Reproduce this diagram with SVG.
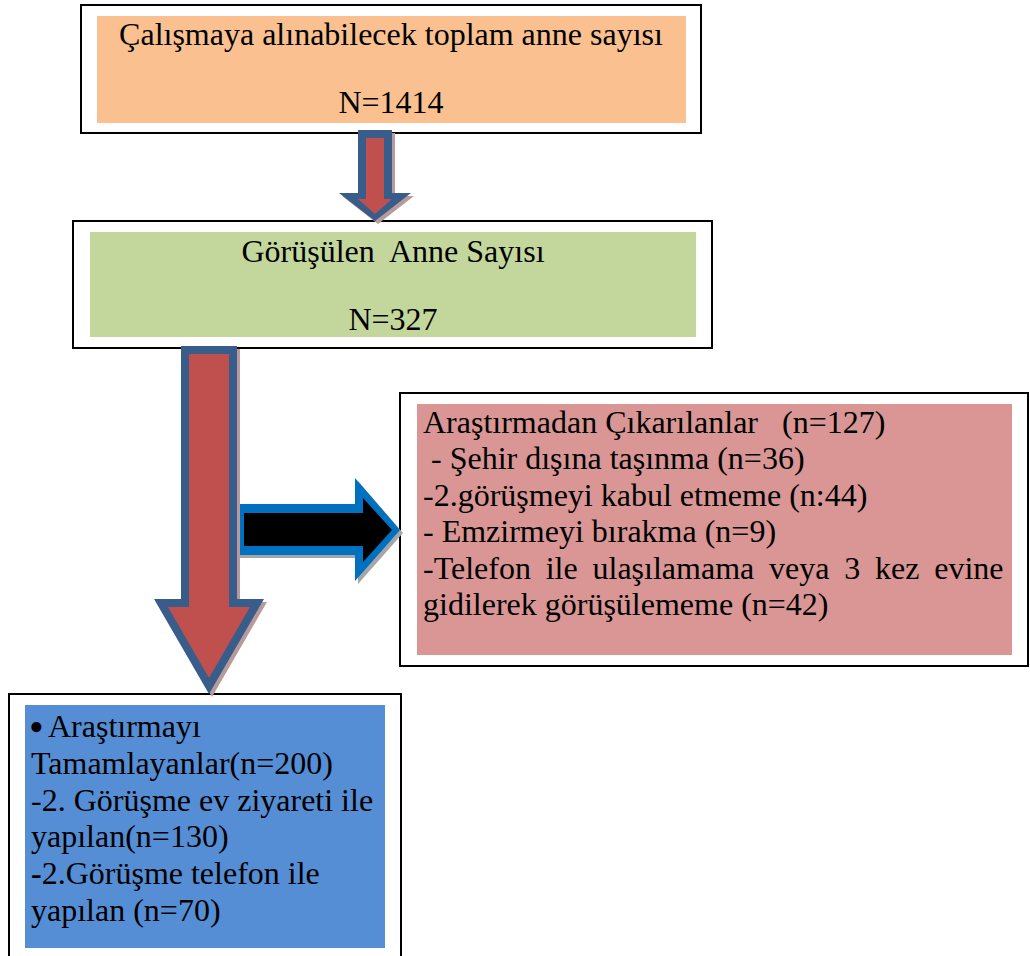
<svg xmlns="http://www.w3.org/2000/svg" xmlns:xlink="http://www.w3.org/1999/xlink" width="1030" height="956" viewBox="0 0 1030 956">
  <style>
    .frame { fill: #FFFFFF; stroke: #000000; stroke-width: 2; }
    .blueline { fill: #385D8A; }
    .redfill { fill: #C0504D; }
    .redshadow { fill: #B89A9A; }
    .cyanline { fill: #0070C0; }
    .blackfill { fill: #000000; }
    .grayshadow { fill: #A6A6A6; }
  </style>
  <defs>
    <polygon id="a1out" points="358,130 392,130 392,193 411,193 375,221 339,193 358,193"/>
    <polygon id="a2out" points="181,346 237,346 237,599 264,599 209,694 154,599 181,599"/>
    <polygon id="a3out" points="236,504 355,504 355,478 400,530 355,581 355,555 236,555"/>
  </defs>

  <rect width="1030" height="956" fill="#FFFFFF"/>

  <g id="node-total">
    <rect class="frame" x="81" y="5" width="620" height="128"/>
    <rect x="97" y="16" width="589" height="107" fill="#FAC090"/>
    <text font-family="Liberation Serif" font-size="32" fill="#000000" text-anchor="middle" x="391" y="45">Çalışmaya alınabilecek toplam anne sayısı</text>
    <text font-family="Liberation Serif" font-size="32" fill="#000000" text-anchor="middle" x="391" y="113">N=1414</text>
  </g>

  <g id="node-interviewed">
    <rect class="frame" x="73" y="221" width="639" height="127"/>
    <rect x="90" y="232" width="606" height="105" fill="#C3D69B"/>
    <text font-family="Liberation Serif" font-size="32" fill="#000000" text-anchor="middle" x="393" y="262" xml:space="preserve">Görüşülen  Anne Sayısı</text>
    <text font-family="Liberation Serif" font-size="32" fill="#000000" text-anchor="middle" x="393" y="330">N=327</text>
  </g>

  <g id="node-excluded">
    <rect class="frame" x="400" y="393" width="628" height="273"/>
    <rect x="417" y="404" width="595" height="251" fill="#D99694"/>
    <text font-family="Liberation Serif" font-size="32" fill="#000000" x="423" y="433" xml:space="preserve">Araştırmadan Çıkarılanlar   (n=127)</text>
    <text font-family="Liberation Serif" font-size="32" fill="#000000" x="423" y="469.4" xml:space="preserve"> - Şehir dışına taşınma (n=36)</text>
    <text font-family="Liberation Serif" font-size="32" fill="#000000" x="423" y="505.8">-2.görüşmeyi kabul etmeme (n:44)</text>
    <text font-family="Liberation Serif" font-size="32" fill="#000000" x="423" y="542.2">- Emzirmeyi bırakma (n=9)</text>
    <text font-family="Liberation Serif" font-size="32" fill="#000000" x="423" y="578.6" word-spacing="6.8">-Telefon ile ulaşılamama veya 3 kez evine</text>
    <text font-family="Liberation Serif" font-size="32" fill="#000000" x="423" y="615">gidilerek görüşülememe (n=42)</text>
  </g>

  <g id="node-completed">
    <rect class="frame" x="9" y="694" width="392" height="272"/>
    <rect x="25" y="705" width="360" height="243" fill="#558ED5"/>
    <text font-family="Liberation Serif" font-size="42" fill="#000000" x="29" y="741">•</text>
    <text font-family="Liberation Serif" font-size="32" fill="#000000" x="48" y="737">Araştırmayı</text>
    <text font-family="Liberation Serif" font-size="32" fill="#000000" x="31" y="773.8">Tamamlayanlar(n=200)</text>
    <text font-family="Liberation Serif" font-size="32" fill="#000000" x="31" y="810.6">-2. Görüşme ev ziyareti ile</text>
    <text font-family="Liberation Serif" font-size="32" fill="#000000" x="31" y="847.4">yapılan(n=130)</text>
    <text font-family="Liberation Serif" font-size="32" fill="#000000" x="31" y="884.2"><tspan font-weight="bold">-</tspan>2.Görüşme telefon ile</text>
    <text font-family="Liberation Serif" font-size="32" fill="#000000" x="31" y="921">yapılan (n=70)</text>
  </g>

  <g id="connectors">
    <g id="arrow-total-to-interviewed">
      <use xlink:href="#a1out" class="redshadow" transform="translate(3,3)"/>
      <use xlink:href="#a1out" class="blueline"/>
      <polygon class="redfill" points="366,138 384,138 384,199 392,199 375,214 358,199 366,199"/>
    </g>
    <g id="arrow-interviewed-to-excluded">
      <use xlink:href="#a3out" class="grayshadow" transform="translate(3,3)"/>
      <use xlink:href="#a3out" class="cyanline"/>
      <polygon class="blackfill" points="244,513 363,513 363,498 392,530 363,562 363,546 244,546"/>
    </g>
    <g id="arrow-interviewed-to-completed">
      <use xlink:href="#a2out" class="redshadow" transform="translate(3,3)"/>
      <use xlink:href="#a2out" class="blueline"/>
      <polygon class="redfill" points="189,354 229,354 229,607 250,607 209,678 168,607 189,607"/>
    </g>
  </g>
</svg>
